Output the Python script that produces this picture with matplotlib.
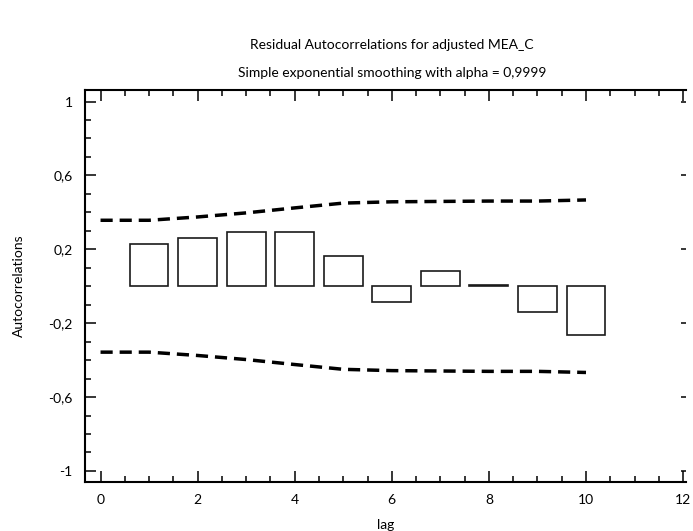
import matplotlib
matplotlib.use("Agg")
import matplotlib.pyplot as plt
from matplotlib.ticker import MultipleLocator, FixedLocator


### DATA ###
lags = [1, 2, 3, 4, 5, 6, 7, 8, 9, 10]
autocorr = [0.226, 0.261, 0.296, 0.296, 0.161, -0.083, 0.081, 0.004, -0.137, -0.265]

limit_lags = [0, 1, 2, 3, 4, 5, 6, 7, 8, 9, 10]
upper_limit = [0.357, 0.357, 0.375, 0.397, 0.424, 0.450, 0.457, 0.459, 0.461, 0.461, 0.467]
lower_limit = [-0.357, -0.357, -0.375, -0.397, -0.424, -0.450, -0.457, -0.459, -0.461, -0.461, -0.467]

xticks = [0, 2, 4, 6, 8, 10, 12]
yticks = [-1, -0.6, -0.2, 0.2, 0.6, 1]
ytick_labels = ["-1", "-0,6", "-0,2", "0,2", "0,6", "1"]

title_1 = "Residual Autocorrelations for adjusted MEA_C"
title_2 = "Simple exponential smoothing with alpha = 0,9999"


plt.rcParams['font.family'] = ['Lato', 'DejaVu Sans']
FS = 10


### FIGURE ###
fig = plt.figure(figsize=(6.93, 5.31), dpi=100)
ax = fig.add_axes([85 / 693, (531 - 482) / 531, (686 - 85) / 693, (482 - 89.5) / 531])

ax.bar(lags, autocorr, width=0.8, facecolor='white', edgecolor='#1a1a1a', linewidth=1.2, zorder=3)

ax.plot(limit_lags, upper_limit, color='black', linewidth=2.5, linestyle=(0, (3.5, 2)), zorder=2)
ax.plot(limit_lags, lower_limit, color='black', linewidth=2.5, linestyle=(0, (3.5, 2)), zorder=2)

ax.set_xlim(-0.32, 12.06)
ax.set_ylim(-1.06, 1.065)


### TICKS ###
ax.xaxis.set_major_locator(FixedLocator(xticks))
ax.xaxis.set_minor_locator(MultipleLocator(0.5))
ax.yaxis.set_major_locator(FixedLocator(yticks))
ax.yaxis.set_minor_locator(MultipleLocator(0.1))
ax.set_yticklabels(ytick_labels)

ax.tick_params(which='major', direction='in', length=8, width=1.1, top=True, right=False,
               labelsize=FS, pad=9)
ax.tick_params(which='minor', direction='in', length=4.5, width=1.1, top=True, right=False)
ax.yaxis.set_tick_params(which='major', right=True)

# short outward dashes on the right side
for t in ax.yaxis.get_major_ticks():
    t.tick2line.set_markersize(3.5)
    t.tick2line.set_marker(0)

for side in ['left', 'bottom', 'top']:
    ax.spines[side].set_linewidth(1.5)
ax.spines['right'].set_visible(False)


### LABELS ###
ax.set_xlabel("lag", fontsize=FS, labelpad=9)
ax.set_ylabel("Autocorrelations", fontsize=FS, labelpad=17)

fig.text(392 / 693, 1 - 45 / 531, title_1, ha='center', va='center', fontsize=FS)
fig.text(392 / 693, 1 - 73 / 531, title_2, ha='center', va='center', fontsize=FS)


fig.savefig("out.png", dpi=100)
